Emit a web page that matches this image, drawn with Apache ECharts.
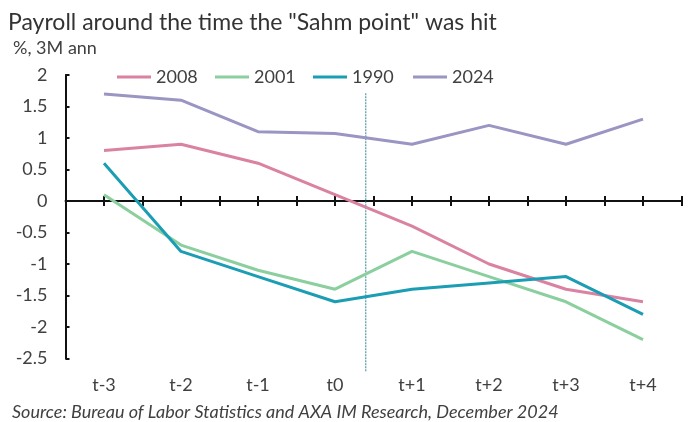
<!DOCTYPE html>
<html>
<head>
<meta charset="utf-8">
<script src="https://cdn.jsdelivr.net/npm/echarts@6/dist/echarts.min.js"></script>
<style>
html,body{margin:0;padding:0;background:#fff;}
#chart{width:693px;height:422px;}
</style>
</head>
<body>
<div id="chart"></div>
<script>
var categories = ['t-3', 't-2', 't-1', 't0', 't+1', 't+2', 't+3', 't+4'];
var seriesNames = ['2008', '2001', '1990', '2024'];
var values2008 = [0.8, 0.9, 0.6, 0.1, -0.4, -1.0, -1.4, -1.6];
var values2001 = [0.1, -0.7, -1.1, -1.4, -0.8, -1.2, -1.6, -2.2];
var values1990 = [0.6, -0.8, -1.2, -1.6, -1.4, -1.3, -1.2, -1.8];
var values2024 = [1.7, 1.6, 1.1, 1.07, 0.9, 1.2, 0.9, 1.3];
var yTicks = ['2', '1.5', '1', '0.5', '0', '-0.5', '-1', '-1.5', '-2', '-2.5'];
var sahmX = [3.4, 3.4];
var sahmY = [1.71, -2.71];

var colors = ['#DA82A1', '#8CCF9F', '#1B9DB4', '#9A95C3'];
var FONT = 'Lato';
var AXIS_COLOR = '#111';

function pairs(arr) { return arr.map(function (v, i) { return [i, v]; }); }

var allValues = [values2008, values2001, values1990, values2024];
var series = allValues.map(function (vals, k) {
  return {
    name: seriesNames[k], type: 'line', xAxisIndex: 0, yAxisIndex: 0, data: pairs(vals),
    symbol: 'none', smooth: false,
    lineStyle: { color: colors[k], width: 3 }, itemStyle: { color: colors[k] },
    z: 3 + k
  };
});
series.push({
  name: 'sahm', type: 'line', xAxisIndex: 0, yAxisIndex: 0, clip: false, symbol: 'none',
  data: sahmX.map(function (x, i) { return [x, sahmY[i]]; }),
  lineStyle: { color: '#2E8796', width: 1, type: [2, 1] }, z: 2, silent: true
});

var legendLefts = [117, 215, 313, 413];
var legends = seriesNames.map(function (n, k) {
  return {
    data: [n], left: legendLefts[k], top: 68, padding: 0,
    itemWidth: 34, itemHeight: 3, icon: 'rect',
    textStyle: { fontFamily: FONT, fontSize: 18, color: '#404040' }
  };
});

function xCommon(extra) {
  var base = {
    type: 'value', min: -0.5, max: 7.5, interval: 0.5,
    splitLine: { show: false }
  };
  for (var k in extra) base[k] = extra[k];
  return base;
}
function yCommon(extra) {
  var base = {
    type: 'value', min: -2.5, max: 2, interval: 0.5,
    splitLine: { show: false }
  };
  for (var k in extra) base[k] = extra[k];
  return base;
}

var option = {
  animation: false,
  backgroundColor: '#fff',
  title: [
    { text: 'Payroll around the time the "Sahm point" was hit', left: 8, top: 11, padding: 0,
      textStyle: { fontFamily: FONT, fontSize: 23, fontWeight: 'normal', color: '#333' } },
    { text: '%, 3M ann', left: 13, top: 39, padding: 0,
      textStyle: { fontFamily: FONT, fontSize: 18, fontWeight: 'normal', color: '#404040' } },
    { text: 'Source: Bureau of Labor Statistics and AXA IM Research, December 2024', left: 12, top: 403, padding: 0,
      textStyle: { fontFamily: FONT, fontSize: 18, fontWeight: 'normal', fontStyle: 'italic', color: '#404040' } }
  ],
  legend: legends,
  grid: { left: 65.5, right: 11.5, top: 75, bottom: 63.5, containLabel: false },
  xAxis: [
    xCommon({ position: 'bottom',
      axisLine: { show: true, onZero: true, onZeroAxisIndex: 0, lineStyle: { color: AXIS_COLOR, width: 2 } },
      axisTick: { show: true, length: 5, lineStyle: { color: AXIS_COLOR, width: 2 } },
      axisLabel: { show: false } }),
    xCommon({ position: 'top',
      axisLine: { show: false, onZero: true, onZeroAxisIndex: 1 },
      axisTick: { show: true, length: 5, lineStyle: { color: AXIS_COLOR, width: 2 } },
      axisLabel: { show: false } }),
    xCommon({ position: 'bottom',
      axisLine: { show: false, onZero: false },
      axisTick: { show: false },
      axisLabel: { show: true, margin: 18, fontFamily: FONT, fontSize: 18, color: '#404040',
        formatter: function (v) {
          var i = Math.round(v);
          return (Math.abs(v - i) < 1e-6 && categories[i] !== undefined) ? categories[i] : '';
        } } })
  ],
  yAxis: [
    yCommon({ position: 'left',
      axisLine: { show: true, onZero: false, lineStyle: { color: AXIS_COLOR, width: 2 } },
      axisTick: { show: true, inside: true, length: 4, lineStyle: { color: AXIS_COLOR, width: 2 } },
      axisLabel: { margin: 18, fontFamily: FONT, fontSize: 18, color: '#404040',
        formatter: function (v) {
          var idx = Math.round((2 - v) / 0.5);
          return yTicks[idx] !== undefined ? yTicks[idx] : '';
        } } }),
    yCommon({ position: 'right',
      axisLine: { show: false, onZero: false },
      axisTick: { show: false },
      axisLabel: { show: false } })
  ],
  series: series
};

var chart = echarts.init(document.getElementById('chart'), null, { renderer: 'canvas' });
chart.setOption(option);
</script>
</body>
</html>
